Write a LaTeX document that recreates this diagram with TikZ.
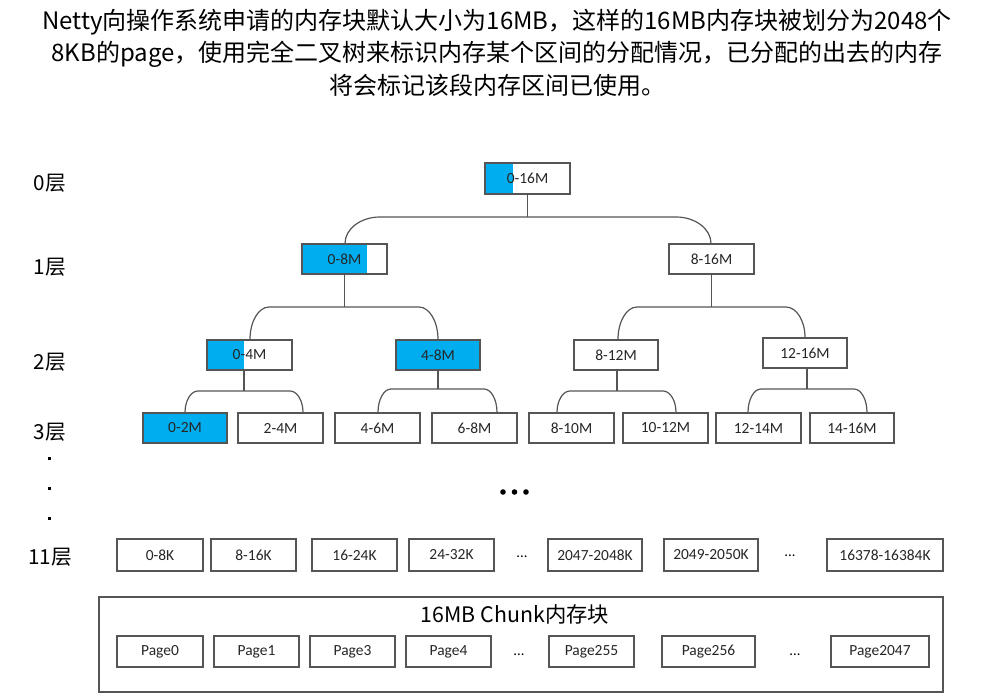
\documentclass[tikz,border=0pt]{standalone}
\usepackage{fontspec}
\usetikzlibrary{calc,shadows}
\setmainfont{Noto Sans CJK SC}
\newfontfamily\cjkf{Noto Sans CJK SC}
\newfontfamily\boxf{Carlito}
\definecolor{cyanb}{RGB}{0,174,239}
\definecolor{edgec}{RGB}{85,85,85}
\newcommand\mybox[7][]{%
  \pgfmathsetmacro\bxw{(#4-#3)*0.75}%
  \pgfmathsetmacro\bxh{(#6-#5)*0.75}%
  \node[box,#1,minimum width=\bxw pt,minimum height=\bxh pt] (#2) at ({(#3+#4)/2},{(#5+#6)/2}) {#7};}
\newcommand\branch[8]{%
  \coordinate (bar) at (0,#3);
  \coordinate (tr) at ($(#1.south)+(#2,0)$);
  \coordinate (legL) at ($(#4.north)+(#5,0)$);
  \coordinate (legR) at ($(#6.north)+(#7,0)$);
  \coordinate (barL) at ($(legL |- bar)+(#8,0)$);
  \coordinate (barR) at ($(legR |- bar)+(-#8,0)$);
  \draw[conn] (tr) -- (tr |- bar);
  \draw[conn] (legL) .. controls ($(legL)!0.55!(legL |- bar)$) and ($(barL)!0.55!(legL |- bar)$) .. (barL)
     -- (barR) .. controls ($(barR)!0.55!(legR |- bar)$) and ($(legR)!0.55!(legR |- bar)$) .. (legR);
}
\begin{document}
\begin{tikzpicture}[x=0.75pt,y=-0.75pt,
  box/.style={draw=edgec,line width=0.9pt,fill=white,inner sep=0pt,
    font=\boxf\fontsize{11.6pt}{14pt}\selectfont,text=black!85,
    drop shadow={shadow xshift=0.9pt,shadow yshift=-0.9pt,opacity=0.22,fill=black}},
  conn/.style={draw=edgec,line width=0.9pt},
  halfblue/.style={path picture={\fill[cyanb] (path picture bounding box.south west) rectangle ($(path picture bounding box.north west)!#1!(path picture bounding box.north east)$);}},
  title/.style={font=\cjkf\fontsize{18pt}{22pt}\selectfont,inner sep=0pt,anchor=center},
  lvl/.style={font=\cjkf\fontsize{15.5pt}{18pt}\selectfont,inner sep=0pt},
  ell/.style={font=\boxf\fontsize{11pt}{13pt}\selectfont,inner sep=0pt},
  bigdot/.style={fill=black,draw=none}]
\useasboundingbox (0,0) rectangle (993,699);
% title
\node[title] (t1) at (497,22) {Netty向操作系统申请的内存块默认大小为16MB，这样的16MB内存块被划分为2048个};
\node[title] (t2) at (497,54) {8KB的page，使用完全二叉树来标识内存某个区间的分配情况，已分配的出去的内存};
\node[title] (t3) at (497,85) {将会标记该段内存区间已使用。};
% level labels
\node[lvl] (l0) at (50,183) {0层};
\node[lvl] (l1) at (50,267) {1层};
\node[lvl] (l2) at (50,362) {2层};
\node[lvl] (l3) at (50,432) {3层};
\node[lvl] (l11) at (50,557) {11层};
\fill (47.5,456.5) rectangle (50.5,459.5);
\fill (47.5,486.5) rectangle (50.5,489.5);
\fill (47.5,516.5) rectangle (50.5,519.5);
% level 0..3
\mybox[halfblue=0.33]{n0}{485}{570}{163}{194}{0-16M}
\mybox[halfblue=0.765]{n1a}{302}{387}{244}{274}{0-8M}
\mybox{n1b}{669}{754}{244}{274}{8-16M}
\mybox[halfblue=0.435]{n2a}{207}{292}{340}{370}{0-4M}
\mybox[fill=cyanb]{n2b}{396}{480}{340}{370}{4-8M}
\mybox{n2c}{574}{658}{340}{370}{8-12M}
\mybox{n2d}{763}{847}{338}{368}{12-16M}
\mybox[fill=cyanb]{n3a}{143}{227}{413}{443}{0-2M}
\mybox{n3b}{238}{323}{413}{443}{2-4M}
\mybox{n3c}{335}{420}{413}{443}{4-6M}
\mybox{n3d}{432}{517}{413}{443}{6-8M}
\mybox{n3e}{529}{614}{413}{443}{8-10M}
\mybox{n3f}{623}{708}{413}{443}{10-12M}
\mybox{n3g}{716}{801}{413}{443}{12-14M}
\mybox{n3h}{810}{894}{413}{443}{14-16M}
% connectors
\branch{n0}{0}{217}{n1a}{0.5}{n1b}{-0.5}{35}
\branch{n1a}{0}{307}{n2a}{0.5}{n2b}{0}{19}
\branch{n1b}{0}{307}{n2c}{2}{n2d}{0}{19}
\branch{n2a}{-5.5}{391}{n3a}{0}{n3b}{22.5}{13}
\branch{n2b}{0}{389}{n3c}{0.5}{n3d}{22.5}{13}
\branch{n2c}{1}{391}{n3e}{-14.5}{n3f}{10.5}{13}
\branch{n2d}{2}{389}{n3g}{-10.5}{n3h}{15}{13}
% middle dots
\fill[bigdot] (503,492) circle (2.8);
\fill[bigdot] (514.5,492) circle (2.8);
\fill[bigdot] (526,492) circle (2.8);
% level 11
\mybox{k1}{117}{203}{539}{571}{0-8K}
\mybox{k2}{211}{296}{539}{571}{8-16K}
\mybox{k3}{312}{397}{539}{571}{16-24K}
\mybox{k4}{409}{494}{539}{571}{24-32K}
\node[ell] (e1) at (522,557) {...};
\mybox{k5}{548}{642}{539}{571}{2047-2048K}
\mybox{k6}{664}{758}{539}{571}{2049-2050K}
\node[ell] (e2) at (790,556) {...};
\mybox{k7}{827}{943}{539}{571}{16378-16384K}
% chunk
\mybox{chunk}{99}{943}{597}{692}{}
\node[font=\cjkf\fontsize{16pt}{19pt}\selectfont,inner sep=0pt] (ct) at (515,614) {16MB Chunk内存块};
\mybox{p0}{117}{203}{636}{667}{Page0}
\mybox{p1}{214}{299}{636}{667}{Page1}
\mybox{p3}{310}{395}{636}{667}{Page3}
\mybox{p4}{406}{491}{636}{667}{Page4}
\node[ell] (e3) at (519,655) {...};
\mybox{p255}{549}{634}{636}{667}{Page255}
\mybox{p256}{662}{755}{636}{667}{Page256}
\node[ell] (e4) at (795,655) {...};
\mybox{p2047}{831}{929}{636}{667}{Page2047}
\end{tikzpicture}
\end{document}
